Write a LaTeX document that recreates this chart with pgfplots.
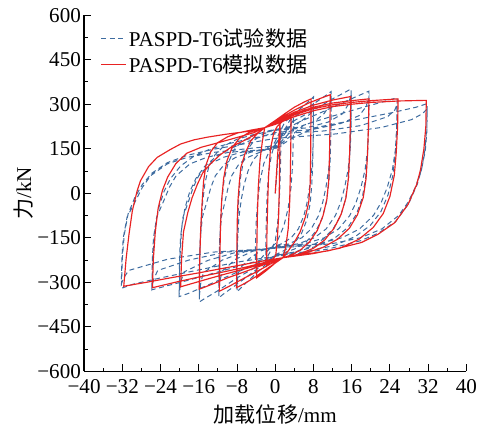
\documentclass[border=0pt]{standalone}
\usepackage{fontspec}
\setmainfont{Liberation Serif}
\newfontfamily\cjk{Noto Sans CJK SC}
\usepackage{pgfplots}
\pgfplotsset{compat=1.18}
\definecolor{rd}{RGB}{232,34,34}
\definecolor{bl}{RGB}{62,108,160}
\begin{document}
\begin{tikzpicture}
\begin{axis}[
 width=381pt, height=355pt, scale only axis,
 xmin=-40, xmax=40, ymin=-600, ymax=600,
 axis x line*=bottom, axis y line*=left,
 axis line style={line width=1.2pt},
 tick align=inside, major tick length=7pt, minor tick length=3.5pt,
 every tick/.style={line width=1pt, black},
 xtick={-40,-32,...,40}, xticklabels={−40,−32,−24,−16,−8,0,8,16,24,32,40},
 ytick={-600,-450,...,600}, yticklabels={−600,−450,−300,−150,0,150,300,450,600},
 minor x tick num=1, minor y tick num=1,
 ticklabel style={font=\fontsize{21}{25}\selectfont, inner sep=1pt},
 yticklabel style={xshift=-2pt},
 xticklabel style={yshift=-7pt},
 xlabel={{\cjk 加载位移}/mm}, ylabel={{\cjk 力}/kN},
 label style={font=\fontsize{21}{25}\selectfont},
 xlabel style={yshift=-6pt},
 legend style={at={(axis cs:-36.6,562)}, anchor=north west, draw=none, fill=none,
   font=\fontsize{21}{25}\selectfont, row sep=3pt, inner sep=0pt},
 legend cell align=left,
 legend image code/.code={\draw[#1] (0pt,0pt) -- (25pt,0pt);},
]
\addplot[bl, line width=1pt, dash pattern=on 5pt off 3.5pt] coordinates {
(0,0) (0.6,120) (1.2,215) (1.15,140) (1.05,60) (0.85,-20) (0.5,-100) (0,-160) (-1,-195) (-1.7,-215) (-2.0,-230)
(-1.95,-150) (-1.85,-70) (-1.65,10) (-1.3,80) (-0.8,130) (-0.2,160) (1.5,195) (2.8,220) (3.5,240) (3.8,255)
(3.75,170) (3.6,90) (3.3,20) (2.7,-50) (1.8,-110) (0.6,-155) (0,-170) (-1.7,-195) (-3,-220) (-3.9,-245) (-4.2,-270)
(-4.15,-180) (-4.0,-100) (-3.7,-30) (-3.2,40) (-2.4,100) (-1.3,140) (0,175)
(2,240) (4,268) (6,295) (7.4,315) (8.0,325)
(7.95,210) (7.85,110) (7.65,30) (7.3,-35) (6.6,-90) (5.5,-135) (4.0,-168) (2.0,-192) (0,-207)
(-2,-240) (-4,-270) (-6,-300) (-7.4,-322) (-8.0,-332)
(-7.95,-210) (-7.85,-100) (-7.65,-20) (-7.3,50) (-6.7,105) (-5.7,150) (-4.3,180) (-2.5,200) (0,215)
(3.2,225) (5.6,245) (7.5,270) (7.83,285) (8.0,300)
(7.97,200) (7.87,140) (7.6,75) (7.17,20) (6.67,-30) (6.0,-75) (4.83,-120) (3.33,-150) (1.33,-170) (0,-178)
(-3.2,-195) (-5.6,-222) (-7.5,-255) (-7.83,-280) (-8.0,-310)
(-7.95,-210) (-7.85,-150) (-7.6,-80) (-7.1,-20) (-6.5,30) (-5.7,75) (-4.5,115) (-3,140) (-1.2,158) (0,165)
(1.5,200) (3,245) (6,280) (9,312) (10.8,332) (11.7,343)
(11.65,220) (11.5,115) (11.2,35) (10.7,-30) (9.8,-85) (8.4,-130) (6.5,-163) (4,-188) (1,-205) (0,-210)
(-3,-245) (-6,-282) (-9,-318) (-10.9,-340) (-11.8,-352)
(-11.7,-220) (-11.5,-110) (-11.2,-25) (-10.7,45) (-9.9,100) (-8.7,145) (-7.0,175) (-4.5,195) (-1.5,210) (0,215)
(4.7,222) (8.2,242) (10.2,268) (11.2,292) (11.7,320)
(11.66,210) (11.52,145) (11.17,80) (10.6,20) (9.94,-30) (9.06,-75) (7.52,-120) (5.54,-150) (2.9,-170) (0,-180)
(-4.7,-195) (-8.3,-222) (-11.1,-262) (-11.58,-295) (-11.8,-335)
(-11.76,-220) (-11.62,-150) (-11.27,-80) (-10.48,-25) (-9.86,20) (-9.12,59) (-7.58,99) (-5.73,121) (-3.26,138) (0,160)
(2,200) (4,245) (8,280) (12,318) (14.8,342) (15.9,352)
(15.8,230) (15.6,125) (15.3,45) (14.7,-20) (13.7,-75) (12.1,-120) (10,-155) (7,-182) (3.5,-200) (0,-212)
(-4,-248) (-8,-285) (-12,-328) (-14.8,-355) (-15.9,-366)
(-15.8,-220) (-15.55,-110) (-15.2,-30) (-14.7,35) (-13.9,90) (-12.6,130) (-10.7,160) (-8,182) (-4.5,198) (0,212)
(6.4,220) (11.1,240) (14.1,268) (15.3,300) (15.9,335)
(15.85,215) (15.68,150) (15.24,80) (14.52,20) (13.69,-30) (12.58,-75) (10.65,-120) (8.16,-150) (4.84,-170) (0,-182)
(-6.4,-197) (-11.1,-225) (-15.07,-268) (-15.62,-305) (-15.9,-350)
(-15.85,-220) (-15.68,-150) (-15.24,-80) (-14.24,-25) (-13.47,20) (-12.53,59) (-10.59,99) (-8.27,121) (-5.17,138) (0,155)
(2.5,195) (5,240) (10,275) (14.5,308) (18,333) (19.6,344)
(19.5,225) (19.3,125) (18.9,50) (18.2,-15) (17.0,-70) (15.2,-115) (12.5,-150) (9,-177) (4.5,-196) (0,-210)
(-5,-245) (-10,-280) (-14.5,-312) (-18.3,-338) (-20.1,-348)
(-19.95,-220) (-19.6,-120) (-18.9,-50) (-17.9,5) (-16.6,50) (-14.8,90) (-12.5,122) (-9.5,150) (-6,173) (-2.5,193) (0,205)
(7.8,215) (13.7,235) (17.6,262) (19.0,292) (19.6,325)
(19.53,215) (19.33,150) (18.8,80) (17.93,20) (16.92,-30) (15.59,-75) (13.24,-120) (10.23,-150) (6.22,-170) (0,-183)
(-8.0,-198) (-14.1,-226) (-19.1,-265) (-19.77,-298) (-20.1,-340)
(-20.03,-220) (-19.83,-150) (-19.3,-80) (-18.1,-25) (-17.16,20) (-16.02,59) (-13.68,99) (-10.86,121) (-7.12,138) (0,152)
(3,190) (6,230) (12,260) (18,288) (23,310) (25.5,322)
(25.4,225) (25.1,135) (24.6,60) (23.6,-5) (22.1,-62) (19.9,-108) (16.8,-145) (12.5,-175) (7,-195) (0,-212)
(-6,-238) (-12,-265) (-18,-292) (-23,-313) (-25.8,-325)
(-25.65,-220) (-25.2,-125) (-24.4,-50) (-23.3,5) (-21.9,50) (-19.8,92) (-17,125) (-13.5,150) (-9.5,168) (-5,185) (0,200)
(10.2,210) (17.9,228) (23.5,258) (25.0,280) (25.5,300)
(25.42,210) (25.17,150) (24.51,80) (23.43,20) (22.19,-30) (20.53,-75) (17.63,-120) (13.91,-150) (8.94,-170) (0,-185)
(-10.3,-198) (-18.1,-225) (-24.6,-260) (-25.4,-288) (-25.8,-315)
(-25.72,-220) (-25.47,-150) (-24.81,-80) (-23.32,-25) (-22.16,20) (-20.75,59) (-17.85,99) (-14.37,121) (-9.74,138) (0,150)
(3.5,185) (8,220) (16,245) (24,270) (29.5,290) (31.8,302)
(31.7,220) (31.3,145) (30.6,80) (29.7,30) (27.9,-35) (25.2,-95) (21.6,-134) (17.8,-160) (11,-188) (4,-205) (0,-212)
(-8,-232) (-16,-258) (-24,-285) (-29.7,-306) (-32.2,-320)
(-32.0,-220) (-31.6,-140) (-30.8,-70) (-29.4,-15) (-27.8,30) (-25.8,68) (-22.6,103) (-18.4,128) (-13,148) (-7,165) (0,185)
(12.7,200) (22.3,222) (28.5,248) (30.8,268) (31.8,285)
(31.7,205) (31.4,145) (30.6,80) (29.3,20) (27.8,-30) (25.8,-75) (22.3,-120) (17.8,-150) (11.8,-170) (0,-185)
(-12.9,-198) (-22.5,-222) (-30.7,-260) (-31.7,-285) (-32.2,-305)
(-32.1,-220) (-31.8,-150) (-31.0,-80) (-29.2,-25) (-27.8,20) (-26.1,59) (-22.6,99) (-18.4,121) (-12.8,138) (-6,150) (0,160)
};
\addlegendentry{PASPD-T6{\cjk 试验数据}}
\addplot[rd, line width=1.15pt] coordinates {
(0,0) (0.5,130) (1.0,235)
(0.95,130) (0.85,20) (0.7,-80) (0.4,-160) (0.1,-210)
(-1,-230) (-1.8,-245)
(-1.75,-140) (-1.6,-40) (-1.4,60) (-1.0,150) (-0.3,205) (0.4,225)
(2,250) (3.3,265)
(3.25,160) (3.15,60) (3.0,-40) (2.7,-120) (2.2,-180) (1.6,-217)
(0,-235) (-2,-262) (-3.9,-285)
(-3.85,-180) (-3.75,-80) (-3.55,20) (-3.2,110) (-2.7,175) (-2.2,221)
(0,245) (2,268) (4,290) (6,307) (7.5,318)
(7.45,220) (7.4,120) (7.3,30) (7.0,-30) (6.3,-80) (5.2,-130) (4.0,-165) (2.8,-192) (1.6,-217)
(0,-235) (-2,-257) (-4,-280) (-6,-300) (-8.1,-318)
(-8.05,-200) (-7.95,-90) (-7.8,-25) (-7.5,40) (-7.2,87) (-6.3,135) (-5.1,177) (-3.8,200) (-2.2,221)
(0,242) (2,262) (4,280) (7,304) (9.5,320) (11.5,332)
(11.45,230) (11.35,130) (11.2,45) (10.8,-20) (10.0,-75) (8.8,-125) (7.2,-163) (5.2,-192) (3.0,-210) (1.6,-217)
(-1,-238) (-4,-265) (-7,-290) (-9.5,-312) (-11.7,-330)
(-11.6,-220) (-11.45,-110) (-11.2,-20) (-10.8,50) (-10.1,110) (-9,155) (-7.5,185) (-5.5,205) (-2.2,221)
(0,240) (2,257) (4,273) (8,297) (12,314) (15.8,326)
(15.7,230) (15.55,130) (15.3,50) (14.8,-15) (13.8,-70) (12.3,-118) (10.3,-158) (8.0,-185) (5.0,-205) (1.6,-217)
(-2,-238) (-6,-262) (-10,-285) (-13,-305) (-15.9,-323)
(-15.8,-220) (-15.6,-120) (-15.3,-30) (-15.0,40) (-14.5,95) (-13.5,140) (-12.1,170) (-10,190) (-7.9,203) (-5,213) (-2.2,221)
(0,237) (2,253) (4,268) (8,290) (12,304) (16,312) (19.6,318)
(19.5,225) (19.3,130) (19.0,50) (18.4,-15) (17.2,-72) (15.5,-118) (13.0,-155) (10.0,-182) (6.0,-203) (1.6,-217)
(-2,-235) (-6,-253) (-10,-270) (-14,-288) (-17,-302) (-19.8,-315)
(-19.6,-220) (-19.2,-130) (-18.3,-65) (-17.4,-15) (-16.3,30) (-15.2,68) (-13.5,100) (-11.5,130) (-9,158) (-6,182) (-3.5,205) (-2.2,221)
(0,235) (2,250) (4,264) (8,285) (12,298) (16,306) (20,312) (25.7,318)
(25.6,225) (25.3,135) (24.9,60) (24.0,-10) (22.6,-68) (20.5,-115) (17.5,-155) (13.5,-185) (8.0,-203) (1.6,-217)
(-2,-232) (-6,-248) (-10,-262) (-16,-282) (-21,-300) (-25.7,-318)
(-25.5,-220) (-25.1,-130) (-24.5,-50) (-23.6,10) (-22.5,55) (-20.8,100) (-18.5,135) (-15.5,155) (-12,170) (-8,188) (-4.5,204) (-2.2,221)
(0,232) (2,245) (4,258) (8,278) (12,292) (16,300) (20,306) (26,311) (31.6,313)
(31.5,225) (31.1,150) (30.4,80) (29.6,30) (27.8,-37) (25.0,-99) (21.5,-138) (18.0,-166) (11.0,-194) (5,-208) (1.6,-217)
(-4,-232) (-10,-250) (-16,-268) (-22,-285) (-27,-300) (-31.7,-313)
(-31.2,-220) (-30.6,-138) (-29.9,-59) (-28.9,8) (-28.2,42) (-26.5,90) (-24.7,121) (-22,147) (-19.8,166) (-17,180) (-14.2,189) (-10.7,198) (-6,208) (-2.2,221)
(0,232) (2,245) (4,258) (8,278) (12,292) (16,300) (20,306) (26,311) (31.6,313)
};
\addlegendentry{PASPD-T6{\cjk 模拟数据}}
\end{axis}
\path (current bounding box.south west) ++(-10pt,0pt);
\path (current bounding box.north west) ++(0pt,7pt);
\end{tikzpicture}
\end{document}
